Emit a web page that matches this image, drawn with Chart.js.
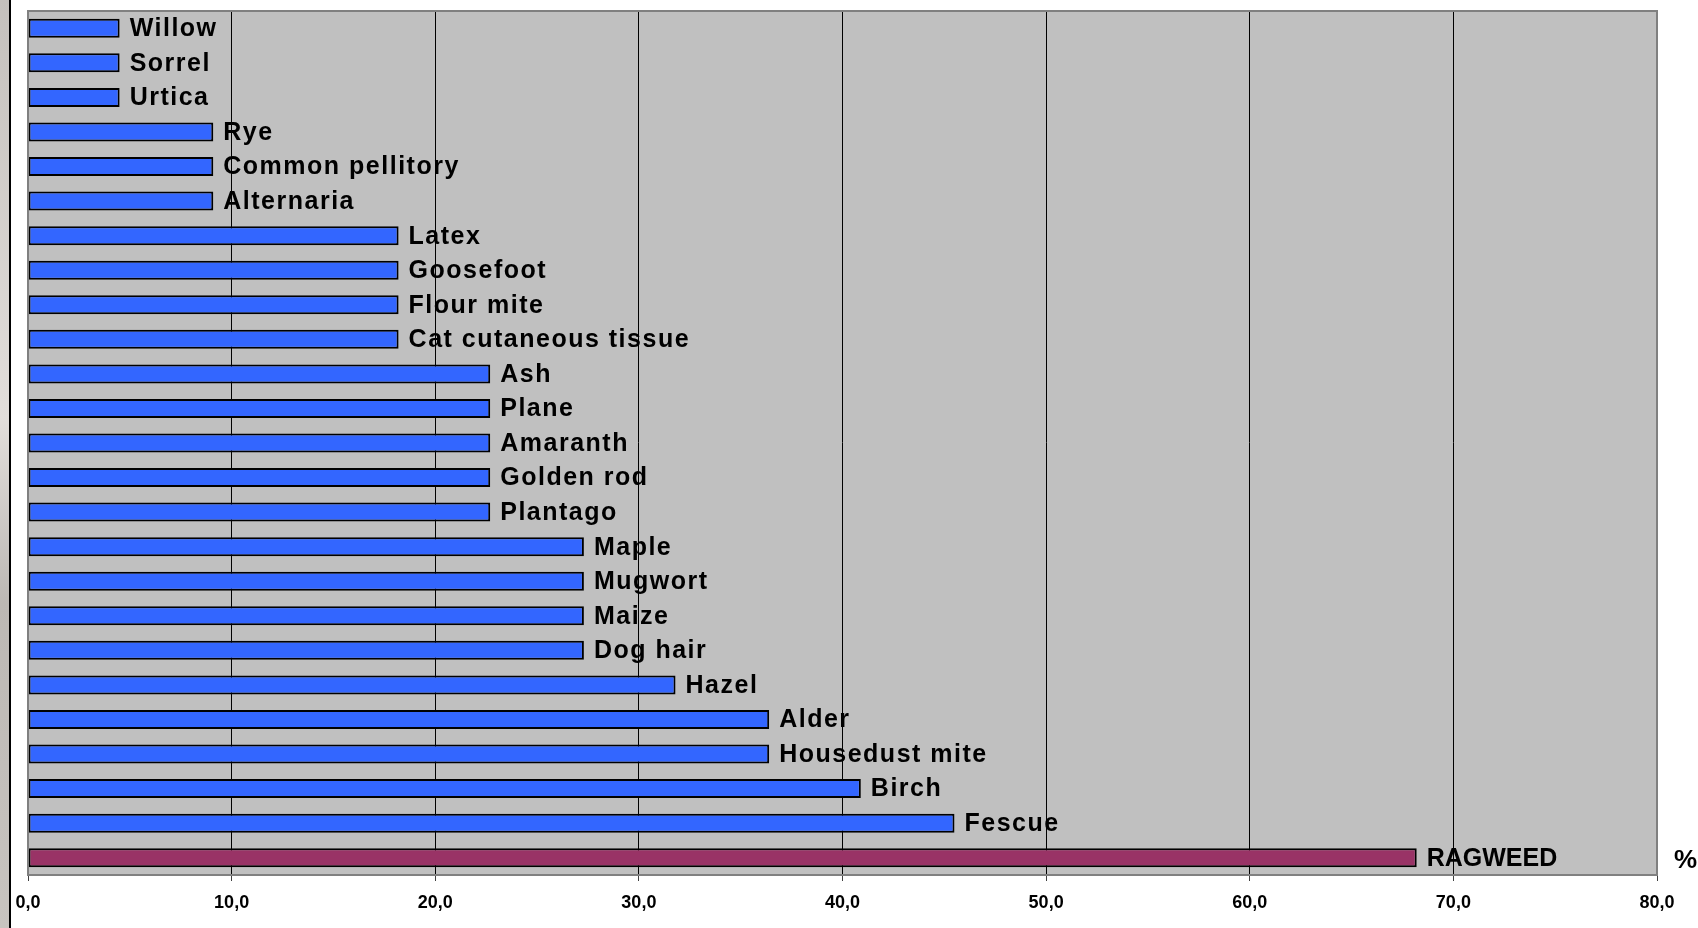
<!DOCTYPE html>
<html>
<head>
<meta charset="utf-8">
<title>Sensitization rates</title>
<script src="https://cdn.jsdelivr.net/npm/chart.js@4.4.1/dist/chart.umd.min.js"></script>
<style>
  html, body { margin: 0; padding: 0; background: #ffffff; }
  #wrap { position: relative; width: 1698px; height: 928px; }
</style>
</head>
<body>
<div id="wrap"><canvas id="allergenChart" width="1698" height="928"></canvas></div>
<script>
// Allergens, top to bottom
const allergens = [
  "Willow", "Sorrel", "Urtica", "Rye", "Common pellitory", "Alternaria",
  "Latex", "Goosefoot", "Flour mite", "Cat cutaneous tissue",
  "Ash", "Plane", "Amaranth", "Golden rod", "Plantago",
  "Maple", "Mugwort", "Maize", "Dog hair", "Hazel",
  "Alder", "Housedust mite", "Birch", "Fescue", "RAGWEED"
];

// Percentage of positive patients
const percents = [
  4.5, 4.5, 4.5, 9.1, 9.1, 9.1,
  18.2, 18.2, 18.2, 18.2,
  22.7, 22.7, 22.7, 22.7, 22.7,
  27.3, 27.3, 27.3, 27.3, 31.8,
  36.4, 36.4, 40.9, 45.5, 68.2
];

const xTicks = [0, 10, 20, 30, 40, 50, 60, 70, 80];
const unitLabel = "%";

const BLUE = "#3366ff";
const PLUM = "#993366";
const LABEL_FONT = "bold 25px 'Liberation Sans', Arial, sans-serif";

// Grey plot area, frame and the strip at the left edge
const backdrop = {
  id: "backdrop",
  beforeDraw(chart) {
    const { ctx, chartArea: a } = chart;
    ctx.save();
    const g = ctx.createLinearGradient(0, 0, 0, chart.height);
    g.addColorStop(0, "#c4c0bc");
    g.addColorStop(0.45, "#e2dedb");
    g.addColorStop(0.65, "#bcb8b4");
    g.addColorStop(1, "#c8c4c0");
    ctx.fillStyle = g;
    ctx.fillRect(0, 0, 9, chart.height);
    ctx.fillStyle = "#000000";
    ctx.fillRect(9, 0, 2, chart.height);

    ctx.fillStyle = "#c0c0c0";
    ctx.fillRect(a.left, a.top, a.right - a.left, a.bottom - a.top);
    ctx.restore();
  },
  afterDatasetsDraw(chart) {
    const { ctx, chartArea: a } = chart;
    ctx.save();
    ctx.strokeStyle = "#808080";
    ctx.lineWidth = 2;
    ctx.beginPath();
    ctx.moveTo(a.left, a.bottom);
    ctx.lineTo(a.left, a.top);
    ctx.lineTo(a.right, a.top);
    ctx.lineTo(a.right, a.bottom);
    ctx.stroke();
    ctx.restore();
  }
};

// Name of each allergen just past the end of its bar
const barNames = {
  id: "barNames",
  afterDatasetsDraw(chart) {
    const { ctx } = chart;
    const meta = chart.getDatasetMeta(0);
    ctx.save();
    ctx.font = LABEL_FONT;
    ctx.fillStyle = "#000000";
    ctx.textAlign = "left";
    ctx.textBaseline = "middle";
    meta.data.forEach((bar, i) => {
      // the headline allergen is set tighter than the rest
      ctx.letterSpacing = allergens[i] === "RAGWEED" ? "0px" : "1.5px";
      ctx.fillText(allergens[i], bar.x + 10, bar.y + 1);
    });

    // unit to the right of the plot
    const a = chart.chartArea;
    ctx.letterSpacing = "0px";
    ctx.font = "bold 26px 'Liberation Sans', Arial, sans-serif";
    ctx.fillText(unitLabel, a.right + 17, meta.data[meta.data.length - 1].y + 3);
    ctx.restore();
  }
};

const ctx = document.getElementById("allergenChart").getContext("2d");

new Chart(ctx, {
  type: "bar",
  data: {
    labels: allergens,
    datasets: [
      {
        data: percents,
        backgroundColor: allergens.map((a) => (a === "RAGWEED" ? PLUM : BLUE)),
        borderColor: "#000000",
        borderWidth: 2,
        borderSkipped: false,
        barPercentage: 0.55,
        categoryPercentage: 1
      }
    ]
  },
  options: {
    indexAxis: "y",
    responsive: false,
    animation: false,
    layout: { padding: { left: 28, top: 11, right: 41, bottom: 0 } },
    plugins: {
      legend: { display: false },
      tooltip: { enabled: false }
    },
    scales: {
      x: {
        min: 0,
        max: 80,
        afterBuildTicks(scale) {
          scale.ticks = xTicks.map((v) => ({ value: v }));
        },
        afterFit(scale) {
          scale.height = 53;
        },
        border: { color: "#808080", width: 2 },
        grid: {
          color: (c) => (c.tick && (c.tick.value === 0 || c.tick.value === 80) ? "#808080" : "#000000"),
          lineWidth: 1,
          tickLength: 6,
          tickColor: "#404040"
        },
        ticks: {
          color: "#000000",
          padding: 11,
          maxRotation: 0,
          font: { family: "'Liberation Sans', Arial, sans-serif", size: 18, weight: "bold" },
          callback: (v) => Number(v).toFixed(1).replace(".", ",")
        }
      },
      y: {
        display: false
      }
    }
  },
  plugins: [backdrop, barNames]
});
</script>
</body>
</html>
